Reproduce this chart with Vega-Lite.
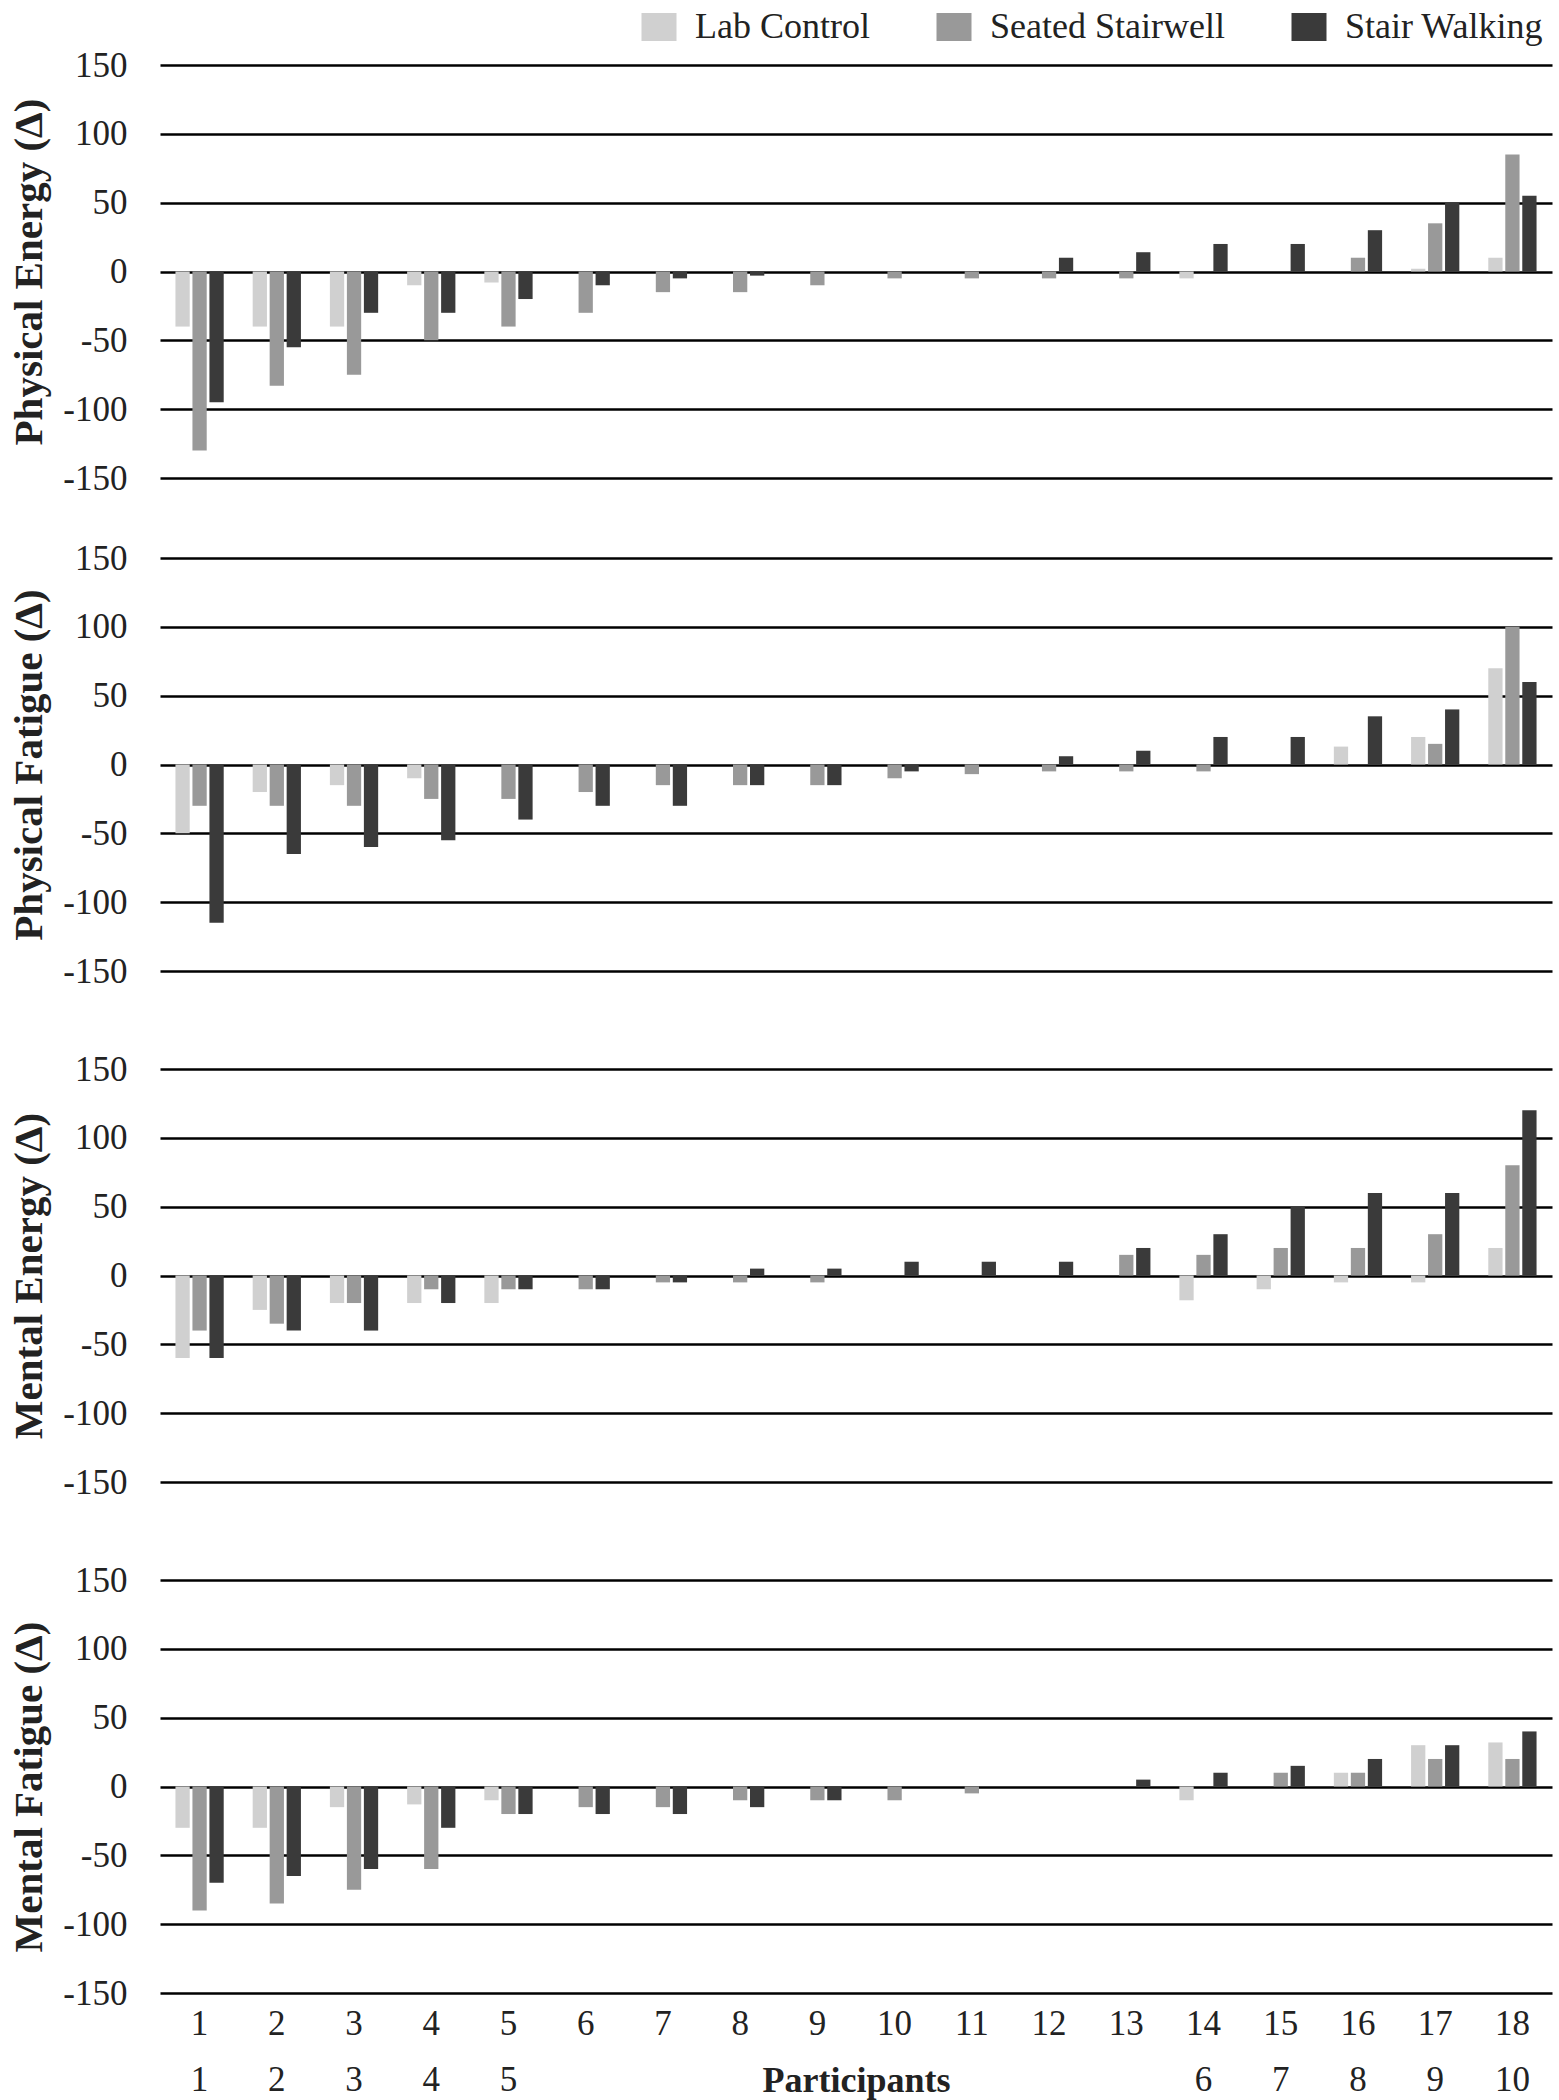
{
  "$schema": "https://vega.github.io/schema/vega-lite/v6.json",
  "background": "white",
  "padding": {"left": 8, "right": 6, "top": 9, "bottom": 2},
  "spacing": 63,
  "config": {
    "font": "Liberation Serif",
    "view": {"stroke": null},
    "legend": {
      "labelFont": "Liberation Serif",
      "labelFontSize": 36,
      "labelColor": "#222222",
      "labelLimit": 500,
      "symbolType": "M-1,-0.8H1V0.8H-1Z",
      "symbolSize": 1225,
      "symbolStrokeWidth": 0,
      "labelOffset": 18,
      "columnPadding": 66,
      "title": null
    }
  },
  "data": {
    "values": [
      {"m": "PE", "p": 1, "c": "Lab Control", "v": -40}, {"m": "PE", "p": 1, "c": "Seated Stairwell", "v": -130}, {"m": "PE", "p": 1, "c": "Stair Walking", "v": -95},
      {"m": "PE", "p": 2, "c": "Lab Control", "v": -40}, {"m": "PE", "p": 2, "c": "Seated Stairwell", "v": -83}, {"m": "PE", "p": 2, "c": "Stair Walking", "v": -55},
      {"m": "PE", "p": 3, "c": "Lab Control", "v": -40}, {"m": "PE", "p": 3, "c": "Seated Stairwell", "v": -75}, {"m": "PE", "p": 3, "c": "Stair Walking", "v": -30},
      {"m": "PE", "p": 4, "c": "Lab Control", "v": -10}, {"m": "PE", "p": 4, "c": "Seated Stairwell", "v": -50}, {"m": "PE", "p": 4, "c": "Stair Walking", "v": -30},
      {"m": "PE", "p": 5, "c": "Lab Control", "v": -8}, {"m": "PE", "p": 5, "c": "Seated Stairwell", "v": -40}, {"m": "PE", "p": 5, "c": "Stair Walking", "v": -20},
      {"m": "PE", "p": 6, "c": "Lab Control", "v": 0}, {"m": "PE", "p": 6, "c": "Seated Stairwell", "v": -30}, {"m": "PE", "p": 6, "c": "Stair Walking", "v": -10},
      {"m": "PE", "p": 7, "c": "Lab Control", "v": 0}, {"m": "PE", "p": 7, "c": "Seated Stairwell", "v": -15}, {"m": "PE", "p": 7, "c": "Stair Walking", "v": -5},
      {"m": "PE", "p": 8, "c": "Lab Control", "v": 0}, {"m": "PE", "p": 8, "c": "Seated Stairwell", "v": -15}, {"m": "PE", "p": 8, "c": "Stair Walking", "v": -3},
      {"m": "PE", "p": 9, "c": "Lab Control", "v": 0}, {"m": "PE", "p": 9, "c": "Seated Stairwell", "v": -10}, {"m": "PE", "p": 9, "c": "Stair Walking", "v": 0},
      {"m": "PE", "p": 10, "c": "Lab Control", "v": 0}, {"m": "PE", "p": 10, "c": "Seated Stairwell", "v": -5}, {"m": "PE", "p": 10, "c": "Stair Walking", "v": 0},
      {"m": "PE", "p": 11, "c": "Lab Control", "v": 0}, {"m": "PE", "p": 11, "c": "Seated Stairwell", "v": -5}, {"m": "PE", "p": 11, "c": "Stair Walking", "v": 0},
      {"m": "PE", "p": 12, "c": "Lab Control", "v": 0}, {"m": "PE", "p": 12, "c": "Seated Stairwell", "v": -5}, {"m": "PE", "p": 12, "c": "Stair Walking", "v": 10},
      {"m": "PE", "p": 13, "c": "Lab Control", "v": 0}, {"m": "PE", "p": 13, "c": "Seated Stairwell", "v": -5}, {"m": "PE", "p": 13, "c": "Stair Walking", "v": 14},
      {"m": "PE", "p": 14, "c": "Lab Control", "v": -5}, {"m": "PE", "p": 14, "c": "Seated Stairwell", "v": 0}, {"m": "PE", "p": 14, "c": "Stair Walking", "v": 20},
      {"m": "PE", "p": 15, "c": "Lab Control", "v": 0}, {"m": "PE", "p": 15, "c": "Seated Stairwell", "v": 0}, {"m": "PE", "p": 15, "c": "Stair Walking", "v": 20},
      {"m": "PE", "p": 16, "c": "Lab Control", "v": 0}, {"m": "PE", "p": 16, "c": "Seated Stairwell", "v": 10}, {"m": "PE", "p": 16, "c": "Stair Walking", "v": 30},
      {"m": "PE", "p": 17, "c": "Lab Control", "v": 2}, {"m": "PE", "p": 17, "c": "Seated Stairwell", "v": 35}, {"m": "PE", "p": 17, "c": "Stair Walking", "v": 50},
      {"m": "PE", "p": 18, "c": "Lab Control", "v": 10}, {"m": "PE", "p": 18, "c": "Seated Stairwell", "v": 85}, {"m": "PE", "p": 18, "c": "Stair Walking", "v": 55},

      {"m": "PF", "p": 1, "c": "Lab Control", "v": -50}, {"m": "PF", "p": 1, "c": "Seated Stairwell", "v": -30}, {"m": "PF", "p": 1, "c": "Stair Walking", "v": -115},
      {"m": "PF", "p": 2, "c": "Lab Control", "v": -20}, {"m": "PF", "p": 2, "c": "Seated Stairwell", "v": -30}, {"m": "PF", "p": 2, "c": "Stair Walking", "v": -65},
      {"m": "PF", "p": 3, "c": "Lab Control", "v": -15}, {"m": "PF", "p": 3, "c": "Seated Stairwell", "v": -30}, {"m": "PF", "p": 3, "c": "Stair Walking", "v": -60},
      {"m": "PF", "p": 4, "c": "Lab Control", "v": -10}, {"m": "PF", "p": 4, "c": "Seated Stairwell", "v": -25}, {"m": "PF", "p": 4, "c": "Stair Walking", "v": -55},
      {"m": "PF", "p": 5, "c": "Lab Control", "v": 0}, {"m": "PF", "p": 5, "c": "Seated Stairwell", "v": -25}, {"m": "PF", "p": 5, "c": "Stair Walking", "v": -40},
      {"m": "PF", "p": 6, "c": "Lab Control", "v": 0}, {"m": "PF", "p": 6, "c": "Seated Stairwell", "v": -20}, {"m": "PF", "p": 6, "c": "Stair Walking", "v": -30},
      {"m": "PF", "p": 7, "c": "Lab Control", "v": 0}, {"m": "PF", "p": 7, "c": "Seated Stairwell", "v": -15}, {"m": "PF", "p": 7, "c": "Stair Walking", "v": -30},
      {"m": "PF", "p": 8, "c": "Lab Control", "v": 0}, {"m": "PF", "p": 8, "c": "Seated Stairwell", "v": -15}, {"m": "PF", "p": 8, "c": "Stair Walking", "v": -15},
      {"m": "PF", "p": 9, "c": "Lab Control", "v": 0}, {"m": "PF", "p": 9, "c": "Seated Stairwell", "v": -15}, {"m": "PF", "p": 9, "c": "Stair Walking", "v": -15},
      {"m": "PF", "p": 10, "c": "Lab Control", "v": 0}, {"m": "PF", "p": 10, "c": "Seated Stairwell", "v": -10}, {"m": "PF", "p": 10, "c": "Stair Walking", "v": -5},
      {"m": "PF", "p": 11, "c": "Lab Control", "v": 0}, {"m": "PF", "p": 11, "c": "Seated Stairwell", "v": -7}, {"m": "PF", "p": 11, "c": "Stair Walking", "v": 0},
      {"m": "PF", "p": 12, "c": "Lab Control", "v": 0}, {"m": "PF", "p": 12, "c": "Seated Stairwell", "v": -5}, {"m": "PF", "p": 12, "c": "Stair Walking", "v": 6},
      {"m": "PF", "p": 13, "c": "Lab Control", "v": 0}, {"m": "PF", "p": 13, "c": "Seated Stairwell", "v": -5}, {"m": "PF", "p": 13, "c": "Stair Walking", "v": 10},
      {"m": "PF", "p": 14, "c": "Lab Control", "v": 0}, {"m": "PF", "p": 14, "c": "Seated Stairwell", "v": -5}, {"m": "PF", "p": 14, "c": "Stair Walking", "v": 20},
      {"m": "PF", "p": 15, "c": "Lab Control", "v": 0}, {"m": "PF", "p": 15, "c": "Seated Stairwell", "v": 0}, {"m": "PF", "p": 15, "c": "Stair Walking", "v": 20},
      {"m": "PF", "p": 16, "c": "Lab Control", "v": 13}, {"m": "PF", "p": 16, "c": "Seated Stairwell", "v": 0}, {"m": "PF", "p": 16, "c": "Stair Walking", "v": 35},
      {"m": "PF", "p": 17, "c": "Lab Control", "v": 20}, {"m": "PF", "p": 17, "c": "Seated Stairwell", "v": 15}, {"m": "PF", "p": 17, "c": "Stair Walking", "v": 40},
      {"m": "PF", "p": 18, "c": "Lab Control", "v": 70}, {"m": "PF", "p": 18, "c": "Seated Stairwell", "v": 100}, {"m": "PF", "p": 18, "c": "Stair Walking", "v": 60},

      {"m": "ME", "p": 1, "c": "Lab Control", "v": -60}, {"m": "ME", "p": 1, "c": "Seated Stairwell", "v": -40}, {"m": "ME", "p": 1, "c": "Stair Walking", "v": -60},
      {"m": "ME", "p": 2, "c": "Lab Control", "v": -25}, {"m": "ME", "p": 2, "c": "Seated Stairwell", "v": -35}, {"m": "ME", "p": 2, "c": "Stair Walking", "v": -40},
      {"m": "ME", "p": 3, "c": "Lab Control", "v": -20}, {"m": "ME", "p": 3, "c": "Seated Stairwell", "v": -20}, {"m": "ME", "p": 3, "c": "Stair Walking", "v": -40},
      {"m": "ME", "p": 4, "c": "Lab Control", "v": -20}, {"m": "ME", "p": 4, "c": "Seated Stairwell", "v": -10}, {"m": "ME", "p": 4, "c": "Stair Walking", "v": -20},
      {"m": "ME", "p": 5, "c": "Lab Control", "v": -20}, {"m": "ME", "p": 5, "c": "Seated Stairwell", "v": -10}, {"m": "ME", "p": 5, "c": "Stair Walking", "v": -10},
      {"m": "ME", "p": 6, "c": "Lab Control", "v": 0}, {"m": "ME", "p": 6, "c": "Seated Stairwell", "v": -10}, {"m": "ME", "p": 6, "c": "Stair Walking", "v": -10},
      {"m": "ME", "p": 7, "c": "Lab Control", "v": 0}, {"m": "ME", "p": 7, "c": "Seated Stairwell", "v": -5}, {"m": "ME", "p": 7, "c": "Stair Walking", "v": -5},
      {"m": "ME", "p": 8, "c": "Lab Control", "v": 0}, {"m": "ME", "p": 8, "c": "Seated Stairwell", "v": -5}, {"m": "ME", "p": 8, "c": "Stair Walking", "v": 5},
      {"m": "ME", "p": 9, "c": "Lab Control", "v": 0}, {"m": "ME", "p": 9, "c": "Seated Stairwell", "v": -5}, {"m": "ME", "p": 9, "c": "Stair Walking", "v": 5},
      {"m": "ME", "p": 10, "c": "Lab Control", "v": 0}, {"m": "ME", "p": 10, "c": "Seated Stairwell", "v": 0}, {"m": "ME", "p": 10, "c": "Stair Walking", "v": 10},
      {"m": "ME", "p": 11, "c": "Lab Control", "v": 0}, {"m": "ME", "p": 11, "c": "Seated Stairwell", "v": 0}, {"m": "ME", "p": 11, "c": "Stair Walking", "v": 10},
      {"m": "ME", "p": 12, "c": "Lab Control", "v": 0}, {"m": "ME", "p": 12, "c": "Seated Stairwell", "v": 0}, {"m": "ME", "p": 12, "c": "Stair Walking", "v": 10},
      {"m": "ME", "p": 13, "c": "Lab Control", "v": 0}, {"m": "ME", "p": 13, "c": "Seated Stairwell", "v": 15}, {"m": "ME", "p": 13, "c": "Stair Walking", "v": 20},
      {"m": "ME", "p": 14, "c": "Lab Control", "v": -18}, {"m": "ME", "p": 14, "c": "Seated Stairwell", "v": 15}, {"m": "ME", "p": 14, "c": "Stair Walking", "v": 30},
      {"m": "ME", "p": 15, "c": "Lab Control", "v": -10}, {"m": "ME", "p": 15, "c": "Seated Stairwell", "v": 20}, {"m": "ME", "p": 15, "c": "Stair Walking", "v": 50},
      {"m": "ME", "p": 16, "c": "Lab Control", "v": -5}, {"m": "ME", "p": 16, "c": "Seated Stairwell", "v": 20}, {"m": "ME", "p": 16, "c": "Stair Walking", "v": 60},
      {"m": "ME", "p": 17, "c": "Lab Control", "v": -5}, {"m": "ME", "p": 17, "c": "Seated Stairwell", "v": 30}, {"m": "ME", "p": 17, "c": "Stair Walking", "v": 60},
      {"m": "ME", "p": 18, "c": "Lab Control", "v": 20}, {"m": "ME", "p": 18, "c": "Seated Stairwell", "v": 80}, {"m": "ME", "p": 18, "c": "Stair Walking", "v": 120},

      {"m": "MF", "p": 1, "c": "Lab Control", "v": -30}, {"m": "MF", "p": 1, "c": "Seated Stairwell", "v": -90}, {"m": "MF", "p": 1, "c": "Stair Walking", "v": -70},
      {"m": "MF", "p": 2, "c": "Lab Control", "v": -30}, {"m": "MF", "p": 2, "c": "Seated Stairwell", "v": -85}, {"m": "MF", "p": 2, "c": "Stair Walking", "v": -65},
      {"m": "MF", "p": 3, "c": "Lab Control", "v": -15}, {"m": "MF", "p": 3, "c": "Seated Stairwell", "v": -75}, {"m": "MF", "p": 3, "c": "Stair Walking", "v": -60},
      {"m": "MF", "p": 4, "c": "Lab Control", "v": -13}, {"m": "MF", "p": 4, "c": "Seated Stairwell", "v": -60}, {"m": "MF", "p": 4, "c": "Stair Walking", "v": -30},
      {"m": "MF", "p": 5, "c": "Lab Control", "v": -10}, {"m": "MF", "p": 5, "c": "Seated Stairwell", "v": -20}, {"m": "MF", "p": 5, "c": "Stair Walking", "v": -20},
      {"m": "MF", "p": 6, "c": "Lab Control", "v": 0}, {"m": "MF", "p": 6, "c": "Seated Stairwell", "v": -15}, {"m": "MF", "p": 6, "c": "Stair Walking", "v": -20},
      {"m": "MF", "p": 7, "c": "Lab Control", "v": 0}, {"m": "MF", "p": 7, "c": "Seated Stairwell", "v": -15}, {"m": "MF", "p": 7, "c": "Stair Walking", "v": -20},
      {"m": "MF", "p": 8, "c": "Lab Control", "v": 0}, {"m": "MF", "p": 8, "c": "Seated Stairwell", "v": -10}, {"m": "MF", "p": 8, "c": "Stair Walking", "v": -15},
      {"m": "MF", "p": 9, "c": "Lab Control", "v": 0}, {"m": "MF", "p": 9, "c": "Seated Stairwell", "v": -10}, {"m": "MF", "p": 9, "c": "Stair Walking", "v": -10},
      {"m": "MF", "p": 10, "c": "Lab Control", "v": 0}, {"m": "MF", "p": 10, "c": "Seated Stairwell", "v": -10}, {"m": "MF", "p": 10, "c": "Stair Walking", "v": 0},
      {"m": "MF", "p": 11, "c": "Lab Control", "v": 0}, {"m": "MF", "p": 11, "c": "Seated Stairwell", "v": -5}, {"m": "MF", "p": 11, "c": "Stair Walking", "v": 0},
      {"m": "MF", "p": 12, "c": "Lab Control", "v": 0}, {"m": "MF", "p": 12, "c": "Seated Stairwell", "v": 0}, {"m": "MF", "p": 12, "c": "Stair Walking", "v": 0},
      {"m": "MF", "p": 13, "c": "Lab Control", "v": 0}, {"m": "MF", "p": 13, "c": "Seated Stairwell", "v": 0}, {"m": "MF", "p": 13, "c": "Stair Walking", "v": 5},
      {"m": "MF", "p": 14, "c": "Lab Control", "v": -10}, {"m": "MF", "p": 14, "c": "Seated Stairwell", "v": 0}, {"m": "MF", "p": 14, "c": "Stair Walking", "v": 10},
      {"m": "MF", "p": 15, "c": "Lab Control", "v": 0}, {"m": "MF", "p": 15, "c": "Seated Stairwell", "v": 10}, {"m": "MF", "p": 15, "c": "Stair Walking", "v": 15},
      {"m": "MF", "p": 16, "c": "Lab Control", "v": 10}, {"m": "MF", "p": 16, "c": "Seated Stairwell", "v": 10}, {"m": "MF", "p": 16, "c": "Stair Walking", "v": 20},
      {"m": "MF", "p": 17, "c": "Lab Control", "v": 30}, {"m": "MF", "p": 17, "c": "Seated Stairwell", "v": 20}, {"m": "MF", "p": 17, "c": "Stair Walking", "v": 30},
      {"m": "MF", "p": 18, "c": "Lab Control", "v": 32}, {"m": "MF", "p": 18, "c": "Seated Stairwell", "v": 20}, {"m": "MF", "p": 18, "c": "Stair Walking", "v": 40}
    ]
  },
  "vconcat": [
    {
      "spacing": 45,
      "vconcat": [
        {
          "width": 1392, "height": 413,
          "transform": [{"filter": "datum.m === 'PE'"}],
          "mark": {"type": "bar"},
          "encoding": {
            "x": {"field": "p", "type": "ordinal", "scale": {"paddingInner": 0.375, "paddingOuter": 0.2}, "axis": null},
            "xOffset": {"field": "c", "type": "nominal", "sort": ["Lab Control", "Seated Stairwell", "Stair Walking"], "scale": {"paddingInner": 0.16, "paddingOuter": 0}},
            "y": {"field": "v", "type": "quantitative", "scale": {"domain": [-150, 150], "nice": false},
              "axis": {"values": [-150, -100, -50, 0, 50, 100, 150], "labelExpr": "'' + datum.value", "title": "Physical Energy (Δ)", "grid": true, "gridColor": "#000000", "gridWidth": 2.6, "gridOpacity": 1, "domain": false, "ticks": false, "labelFont": "Liberation Serif", "labelFontSize": 35, "labelColor": "#222222", "labelPadding": 33, "titleFont": "Liberation Serif", "titleFontSize": 41, "titleFontWeight": "bold", "titleColor": "#222222", "titlePadding": 12}},
            "color": {"field": "c", "type": "nominal", "scale": {"domain": ["Lab Control", "Seated Stairwell", "Stair Walking"], "range": ["#d0d0d0", "#999999", "#3a3a3a"]},
              "legend": {"orient": "none", "direction": "horizontal", "legendX": 481, "legendY": -56}}
          }
        },
        {
          "width": 1392, "height": 413,
          "transform": [{"filter": "datum.m === 'PF'"}],
          "mark": {"type": "bar"},
          "encoding": {
            "x": {"field": "p", "type": "ordinal", "scale": {"paddingInner": 0.375, "paddingOuter": 0.2}, "axis": null},
            "xOffset": {"field": "c", "type": "nominal", "sort": ["Lab Control", "Seated Stairwell", "Stair Walking"], "scale": {"paddingInner": 0.16, "paddingOuter": 0}},
            "y": {"field": "v", "type": "quantitative", "scale": {"domain": [-150, 150], "nice": false},
              "axis": {"values": [-150, -100, -50, 0, 50, 100, 150], "labelExpr": "'' + datum.value", "title": "Physical Fatigue (Δ)", "grid": true, "gridColor": "#000000", "gridWidth": 2.6, "gridOpacity": 1, "domain": false, "ticks": false, "labelFont": "Liberation Serif", "labelFontSize": 35, "labelColor": "#222222", "labelPadding": 33, "titleFont": "Liberation Serif", "titleFontSize": 41, "titleFontWeight": "bold", "titleColor": "#222222", "titlePadding": 12}},
            "color": {"field": "c", "type": "nominal", "scale": {"domain": ["Lab Control", "Seated Stairwell", "Stair Walking"], "range": ["#d0d0d0", "#999999", "#3a3a3a"]},
              "legend": {"orient": "none", "direction": "horizontal", "legendX": 481, "legendY": -56}}
          }
        }
      ]
    },
    {
      "width": 1392, "height": 413,
      "transform": [{"filter": "datum.m === 'ME'"}],
      "mark": {"type": "bar"},
      "encoding": {
        "x": {"field": "p", "type": "ordinal", "scale": {"paddingInner": 0.375, "paddingOuter": 0.2}, "axis": null},
        "xOffset": {"field": "c", "type": "nominal", "sort": ["Lab Control", "Seated Stairwell", "Stair Walking"], "scale": {"paddingInner": 0.16, "paddingOuter": 0}},
        "y": {"field": "v", "type": "quantitative", "scale": {"domain": [-150, 150], "nice": false},
          "axis": {"values": [-150, -100, -50, 0, 50, 100, 150], "labelExpr": "'' + datum.value", "title": "Mental Energy (Δ)", "grid": true, "gridColor": "#000000", "gridWidth": 2.6, "gridOpacity": 1, "domain": false, "ticks": false, "labelFont": "Liberation Serif", "labelFontSize": 35, "labelColor": "#222222", "labelPadding": 33, "titleFont": "Liberation Serif", "titleFontSize": 41, "titleFontWeight": "bold", "titleColor": "#222222", "titlePadding": 12}},
        "color": {"field": "c", "type": "nominal", "scale": {"domain": ["Lab Control", "Seated Stairwell", "Stair Walking"], "range": ["#d0d0d0", "#999999", "#3a3a3a"]},
          "legend": {"orient": "none", "direction": "horizontal", "legendX": 481, "legendY": -56}}
      }
    },
    {
      "width": 1392, "height": 413,
      "transform": [{"filter": "datum.m === 'MF'"}],
      "mark": {"type": "bar"},
      "encoding": {
        "x": {"field": "p", "type": "ordinal", "scale": {"paddingInner": 0.375, "paddingOuter": 0.2},
          "axis": {"title": "Participants", "labelAngle": 0, "ticks": false, "domain": false, "labelFont": "Liberation Serif", "labelFontSize": 35, "labelColor": "#222222", "labelPadding": 13, "labelLineHeight": 56,
            "labelExpr": "datum.value <= 5 ? [datum.label, datum.label] : (datum.value >= 14 ? [datum.label, '' + (datum.value - 8)] : [datum.label, ''])",
            "titleFont": "Liberation Serif", "titleFontSize": 36, "titleFontWeight": "bold", "titleColor": "#222222", "titleY": 87, "titleBaseline": "middle"}},
        "xOffset": {"field": "c", "type": "nominal", "sort": ["Lab Control", "Seated Stairwell", "Stair Walking"], "scale": {"paddingInner": 0.16, "paddingOuter": 0}},
        "y": {"field": "v", "type": "quantitative", "scale": {"domain": [-150, 150], "nice": false},
          "axis": {"values": [-150, -100, -50, 0, 50, 100, 150], "labelExpr": "'' + datum.value", "title": "Mental Fatigue (Δ)", "grid": true, "gridColor": "#000000", "gridWidth": 2.6, "gridOpacity": 1, "domain": false, "ticks": false, "labelFont": "Liberation Serif", "labelFontSize": 35, "labelColor": "#222222", "labelPadding": 33, "titleFont": "Liberation Serif", "titleFontSize": 41, "titleFontWeight": "bold", "titleColor": "#222222", "titlePadding": 12}},
        "color": {"field": "c", "type": "nominal", "scale": {"domain": ["Lab Control", "Seated Stairwell", "Stair Walking"], "range": ["#d0d0d0", "#999999", "#3a3a3a"]},
          "legend": {"orient": "none", "direction": "horizontal", "legendX": 481, "legendY": -56}}
      }
    }
  ]
}
